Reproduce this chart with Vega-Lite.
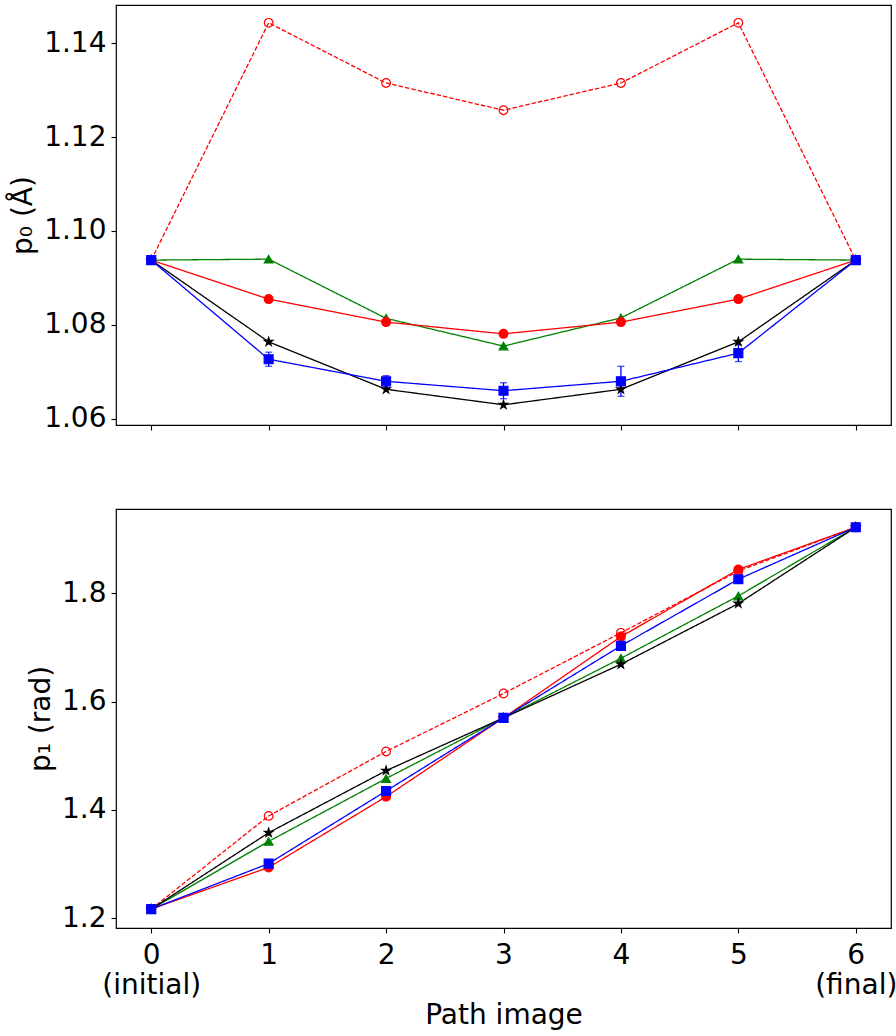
{
  "$schema": "https://vega.github.io/schema/vega-lite/v6.json",
  "background": "white",
  "padding": {"left": 9, "top": 4, "right": 1, "bottom": 0},
  "config": {
    "font": "DejaVu Sans",
    "view": {"stroke": "black", "strokeWidth": 1.2},
    "axis": {
      "grid": false, "domain": false, "tickColor": "black", "tickSize": 5, "tickWidth": 1.1,
      "labelColor": "black", "labelFontSize": 28, "labelFont": "DejaVu Sans", "labelPadding": 5,
      "titleColor": "black", "titleFontSize": 28, "titleFont": "DejaVu Sans", "titleFontWeight": "normal", "titlePadding": 6
    }
  },
  "datasets": {
    "top": [
      {"s": "a", "x": 0, "y": 1.0938, "err": 0},
      {"s": "a", "x": 1, "y": 1.1443, "err": 0},
      {"s": "a", "x": 2, "y": 1.1315, "err": 0},
      {"s": "a", "x": 3, "y": 1.1257, "err": 0},
      {"s": "a", "x": 4, "y": 1.1315, "err": 0},
      {"s": "a", "x": 5, "y": 1.1443, "err": 0},
      {"s": "a", "x": 6, "y": 1.0938, "err": 0},
      {"s": "b", "x": 0, "y": 1.0938, "err": 0},
      {"s": "b", "x": 1, "y": 1.0940, "err": 0},
      {"s": "b", "x": 2, "y": 1.0814, "err": 0},
      {"s": "b", "x": 3, "y": 1.0755, "err": 0},
      {"s": "b", "x": 4, "y": 1.0815, "err": 0},
      {"s": "b", "x": 5, "y": 1.0940, "err": 0},
      {"s": "b", "x": 6, "y": 1.0938, "err": 0},
      {"s": "c", "x": 0, "y": 1.0938, "err": 0},
      {"s": "c", "x": 1, "y": 1.0855, "err": 0},
      {"s": "c", "x": 2, "y": 1.0806, "err": 0},
      {"s": "c", "x": 3, "y": 1.0781, "err": 0},
      {"s": "c", "x": 4, "y": 1.0806, "err": 0},
      {"s": "c", "x": 5, "y": 1.0855, "err": 0},
      {"s": "c", "x": 6, "y": 1.0938, "err": 0},
      {"s": "d", "x": 0, "y": 1.0938, "err": 0},
      {"s": "d", "x": 1, "y": 1.0764, "err": 0},
      {"s": "d", "x": 2, "y": 1.0663, "err": 0},
      {"s": "d", "x": 3, "y": 1.0630, "err": 0},
      {"s": "d", "x": 4, "y": 1.0663, "err": 0},
      {"s": "d", "x": 5, "y": 1.0764, "err": 0},
      {"s": "d", "x": 6, "y": 1.0938, "err": 0},
      {"s": "e", "x": 0, "y": 1.0938, "err": 0},
      {"s": "e", "x": 1, "y": 1.0727, "err": 0.0015},
      {"s": "e", "x": 2, "y": 1.0680, "err": 0.0012},
      {"s": "e", "x": 3, "y": 1.0660, "err": 0.0017},
      {"s": "e", "x": 4, "y": 1.0680, "err": 0.0032},
      {"s": "e", "x": 5, "y": 1.0740, "err": 0.0018},
      {"s": "e", "x": 6, "y": 1.0938, "err": 0}
    ],
    "bottom": [
      {"s": "a", "x": 0, "y": 1.217},
      {"s": "a", "x": 1, "y": 1.389},
      {"s": "a", "x": 2, "y": 1.508},
      {"s": "a", "x": 3, "y": 1.615},
      {"s": "a", "x": 4, "y": 1.727},
      {"s": "a", "x": 5, "y": 1.841},
      {"s": "a", "x": 6, "y": 1.922},
      {"s": "b", "x": 0, "y": 1.217},
      {"s": "b", "x": 1, "y": 1.342},
      {"s": "b", "x": 2, "y": 1.458},
      {"s": "b", "x": 3, "y": 1.570},
      {"s": "b", "x": 4, "y": 1.680},
      {"s": "b", "x": 5, "y": 1.795},
      {"s": "b", "x": 6, "y": 1.922},
      {"s": "c", "x": 0, "y": 1.217},
      {"s": "c", "x": 1, "y": 1.294},
      {"s": "c", "x": 2, "y": 1.4245},
      {"s": "c", "x": 3, "y": 1.570},
      {"s": "c", "x": 4, "y": 1.720},
      {"s": "c", "x": 5, "y": 1.844},
      {"s": "c", "x": 6, "y": 1.922},
      {"s": "d", "x": 0, "y": 1.217},
      {"s": "d", "x": 1, "y": 1.358},
      {"s": "d", "x": 2, "y": 1.4725},
      {"s": "d", "x": 3, "y": 1.570},
      {"s": "d", "x": 4, "y": 1.669},
      {"s": "d", "x": 5, "y": 1.781},
      {"s": "d", "x": 6, "y": 1.922},
      {"s": "e", "x": 0, "y": 1.217},
      {"s": "e", "x": 1, "y": 1.301},
      {"s": "e", "x": 2, "y": 1.435},
      {"s": "e", "x": 3, "y": 1.570},
      {"s": "e", "x": 4, "y": 1.703},
      {"s": "e", "x": 5, "y": 1.826},
      {"s": "e", "x": 6, "y": 1.922}
    ]
  },
  "spacing": 74,
  "vconcat": [
    {
      "width": 775,
      "height": 420,
      "data": {"name": "top"},
      "encoding": {
        "x": {"field": "x", "type": "quantitative", "scale": {"domain": [-0.3, 6.3], "nice": false, "zero": false},
              "axis": {"values": [0, 1, 2, 3, 4, 5, 6], "labels": false, "title": null}},
        "y": {"field": "y", "type": "quantitative", "scale": {"domain": [1.0587, 1.1481], "nice": false, "zero": false},
              "axis": {"values": [1.06, 1.08, 1.10, 1.12, 1.14], "format": ".2f", "title": "p₀ (Å)"}}
      },
      "layer": [
        {
          "mark": {"type": "line", "strokeWidth": 1.3},
          "encoding": {
            "detail": {"field": "s"},
            "color": {"field": "s", "type": "nominal", "legend": null,
                      "scale": {"domain": ["a", "b", "c", "d", "e"], "range": ["#ff0000", "#008000", "#ff0000", "#000000", "#0000ff"]}},
            "strokeDash": {"field": "s", "type": "nominal", "legend": null,
                           "scale": {"domain": ["a", "b", "c", "d", "e"], "range": [[4.5, 2], [1, 0], [1, 0], [1, 0], [1, 0]]}}
          }
        },
        {
          "transform": [{"filter": "datum.s == 'e' && datum.err > 0"}],
          "mark": {"type": "errorbar", "color": "#0000ff", "thickness": 1.3, "ticks": {"size": 7, "color": "#0000ff", "thickness": 1.3}},
          "encoding": {
            "y": {"field": "y", "type": "quantitative"},
            "yError": {"field": "err"}
          }
        },
        {
          "mark": {"type": "point", "opacity": 1, "strokeWidth": 1.2},
          "encoding": {
            "shape": {"field": "s", "type": "nominal", "legend": null,
                      "scale": {"domain": ["a", "b", "c", "d", "e"], "range": ["circle", "triangle-up", "circle", "M0,-1L0.2245,-0.309L0.951,-0.309L0.363,0.118L0.588,0.809L0,0.382L-0.588,0.809L-0.363,0.118L-0.951,-0.309L-0.2245,-0.309Z", "square"]}},
            "stroke": {"field": "s", "type": "nominal", "legend": null,
                       "scale": {"domain": ["a", "b", "c", "d", "e"], "range": ["#ff0000", "#008000", "#ff0000", "#000000", "#0000ff"]}},
            "fill": {"field": "s", "type": "nominal", "legend": null,
                     "scale": {"domain": ["a", "b", "c", "d", "e"], "range": ["transparent", "#008000", "#ff0000", "#000000", "#0000ff"]}},
            "size": {"field": "s", "type": "nominal", "legend": null,
                     "scale": {"domain": ["a", "b", "c", "d", "e"], "range": [75, 80, 85, 100, 90]}}
          }
        }
      ]
    },
    {
      "width": 775,
      "height": 419,
      "data": {"name": "bottom"},
      "encoding": {
        "x": {"field": "x", "type": "quantitative", "scale": {"domain": [-0.3, 6.3], "nice": false, "zero": false},
              "axis": {"values": [0, 1, 2, 3, 4, 5, 6], "title": "Path image", "labelLineHeight": 30, "labelPadding": 8, "titlePadding": 2,
                       "labelExpr": "datum.value == 0 ? ['0', '(initial)'] : datum.value == 6 ? ['6', '(final)'] : datum.label"}},
        "y": {"field": "y", "type": "quantitative", "scale": {"domain": [1.1821, 1.9556], "nice": false, "zero": false},
              "axis": {"values": [1.2, 1.4, 1.6, 1.8], "format": ".1f", "title": "p₁ (rad)"}}
      },
      "layer": [
        {
          "mark": {"type": "line", "strokeWidth": 1.3},
          "encoding": {
            "detail": {"field": "s"},
            "color": {"field": "s", "type": "nominal", "legend": null,
                      "scale": {"domain": ["a", "b", "c", "d", "e"], "range": ["#ff0000", "#008000", "#ff0000", "#000000", "#0000ff"]}},
            "strokeDash": {"field": "s", "type": "nominal", "legend": null,
                           "scale": {"domain": ["a", "b", "c", "d", "e"], "range": [[4.5, 2], [1, 0], [1, 0], [1, 0], [1, 0]]}}
          }
        },
        {
          "mark": {"type": "point", "opacity": 1, "strokeWidth": 1.2},
          "encoding": {
            "shape": {"field": "s", "type": "nominal", "legend": null,
                      "scale": {"domain": ["a", "b", "c", "d", "e"], "range": ["circle", "triangle-up", "circle", "M0,-1L0.2245,-0.309L0.951,-0.309L0.363,0.118L0.588,0.809L0,0.382L-0.588,0.809L-0.363,0.118L-0.951,-0.309L-0.2245,-0.309Z", "square"]}},
            "stroke": {"field": "s", "type": "nominal", "legend": null,
                       "scale": {"domain": ["a", "b", "c", "d", "e"], "range": ["#ff0000", "#008000", "#ff0000", "#000000", "#0000ff"]}},
            "fill": {"field": "s", "type": "nominal", "legend": null,
                     "scale": {"domain": ["a", "b", "c", "d", "e"], "range": ["transparent", "#008000", "#ff0000", "#000000", "#0000ff"]}},
            "size": {"field": "s", "type": "nominal", "legend": null,
                     "scale": {"domain": ["a", "b", "c", "d", "e"], "range": [75, 80, 85, 100, 90]}}
          }
        }
      ]
    }
  ]
}
